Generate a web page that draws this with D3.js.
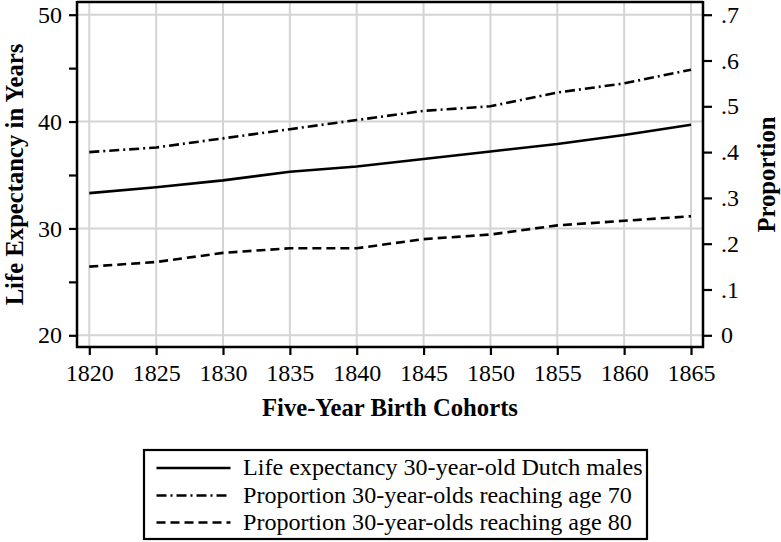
<!DOCTYPE html>
<html><head><meta charset="utf-8">
<script src="https://cdn.jsdelivr.net/npm/d3@7"></script>
<style>body{margin:0;background:#fff;} svg{display:block;} svg text{font-family:"Liberation Serif","Times New Roman",serif;}</style>
</head><body>
<svg id="c" width="781" height="542"></svg>
<script>
const years = [1820,1825,1830,1835,1840,1845,1850,1855,1860,1865];
const lifeExp = [33.3,33.85,34.5,35.3,35.8,36.5,37.2,37.9,38.75,39.7];
const prop70 = [0.40,0.41,0.43,0.45,0.47,0.49,0.50,0.53,0.55,0.58];
const prop80 = [0.15,0.16,0.18,0.19,0.19,0.21,0.22,0.24,0.25,0.26];
const leftMajor = [20,30,40,50];
const leftMinor = [25,35,45];
const rightTicks = [0,0.1,0.2,0.3,0.4,0.5,0.6,0.7];
const legendLabels = ["Life expectancy 30-year-old Dutch males","Proportion 30-year-olds reaching age 70","Proportion 30-year-olds reaching age 80"];
const xTitle = "Five-Year Birth Cohorts", yTitle = "Life Expectancy in Years", y2Title = "Proportion";

const FONT = "Liberation Serif";
const svg = d3.select("#c");
const L = 77, R = 703, T = 2, B = 347;
const x = d3.scaleLinear().domain([1820,1865]).range([89.3,691]);
const y = d3.scaleLinear().domain([20,50]).range([335.3,14.7]);
const y2 = d3.scaleLinear().domain([0,0.7]).range([335.3,14.7]);
const grid = "#d4d4d4";

// gridlines
svg.append("g").selectAll("line.h").data(leftMajor).join("line")
  .attr("x1",L).attr("x2",R).attr("y1",d=>y(d)).attr("y2",d=>y(d))
  .attr("stroke",grid).attr("stroke-width",2);
svg.append("g").selectAll("line.v").data(years).join("line")
  .attr("y1",T).attr("y2",B).attr("x1",d=>x(d)).attr("x2",d=>x(d))
  .attr("stroke",grid).attr("stroke-width",2);

// frame top
svg.append("line").attr("x1",L).attr("x2",R).attr("y1",T).attr("y2",T).attr("stroke","#000").attr("stroke-width",2.5);

const fs = 24;
function styleAxis(g){
  g.attr("font-family",FONT).attr("font-size",fs);
  g.select(".domain").remove();
  g.selectAll(".tick line").attr("stroke","#000").attr("stroke-width",2.2);
  g.selectAll(".tick text").attr("font-family",FONT).attr("font-size",fs).attr("fill","#000");
}
// left axis
const gl = svg.append("g").attr("transform",`translate(${L},0)`)
  .call(d3.axisLeft(y).tickValues(leftMajor).tickSize(8).tickPadding(7).tickFormat(d3.format("d")));
styleAxis(gl);
const glm = svg.append("g").attr("transform",`translate(${L},0)`)
  .call(d3.axisLeft(y).tickValues(leftMinor).tickSize(8).tickFormat(""));
styleAxis(glm);
// right axis
const fmtP = d => d===0 ? "0" : d3.format(".1f")(d).replace(/^0/,"");
const gr = svg.append("g").attr("transform",`translate(${R},0)`)
  .call(d3.axisRight(y2).tickValues(rightTicks).tickSize(9).tickPadding(9).tickFormat(fmtP));
styleAxis(gr);
// bottom axis
const gb = svg.append("g").attr("transform",`translate(0,${B})`)
  .call(d3.axisBottom(x).tickValues(years).tickSize(8).tickPadding(9).tickFormat(d3.format("d")));
styleAxis(gb);

// axis lines
svg.append("line").attr("x1",L).attr("x2",L).attr("y1",T-1).attr("y2",B+1).attr("stroke","#000").attr("stroke-width",2.5);
svg.append("line").attr("x1",R).attr("x2",R).attr("y1",T-1).attr("y2",B+1).attr("stroke","#000").attr("stroke-width",2.5);
svg.append("line").attr("x1",L-1).attr("x2",R+1).attr("y1",B).attr("y2",B).attr("stroke","#000").attr("stroke-width",2.5);

// series
const dashDot = "10,4,2,4", dashed = "9,5";
const series = [
  {vals: lifeExp, sc: y, dash: null},
  {vals: prop70, sc: y2, dash: dashDot},
  {vals: prop80, sc: y2, dash: dashed}
];
series.forEach(s=>{
  const line = d3.line().x((d,i)=>x(years[i])).y(d=>s.sc(d));
  svg.append("path").datum(s.vals).attr("d",line).attr("fill","none")
    .attr("stroke","#000").attr("stroke-width",2.6)
    .attr("stroke-dasharray",s.dash);
});

// titles
const tfs = 24.7;
svg.append("text").attr("x",(L+R)/2).attr("y",416).attr("text-anchor","middle")
  .attr("font-family",FONT).attr("font-weight","bold").attr("font-size",tfs).text(xTitle);
svg.append("text").attr("transform",`translate(23,${(T+B)/2}) rotate(-90)`).attr("text-anchor","middle")
  .attr("font-family",FONT).attr("font-weight","bold").attr("font-size",tfs).text(yTitle);
svg.append("text").attr("transform",`translate(775,${(T+B)/2}) rotate(-90)`).attr("text-anchor","middle")
  .attr("font-family",FONT).attr("font-weight","bold").attr("font-size",tfs).text(y2Title);

// legend
const lg = svg.append("g");
lg.append("rect").attr("x",144).attr("y",450).attr("width",503).attr("height",89)
  .attr("fill","#fff").attr("stroke","#000").attr("stroke-width",2.2);
const rowY = [468,495.5,522.5];
series.forEach((s,i)=>{
  lg.append("line").attr("x1",156.5).attr("x2",230.5).attr("y1",rowY[i]).attr("y2",rowY[i])
    .attr("stroke","#000").attr("stroke-width",2.6).attr("stroke-dasharray",s.dash);
  lg.append("text").attr("x",243).attr("y",rowY[i]+7).attr("font-family",FONT).attr("font-size",24.1).text(legendLabels[i]);
});
</script>
</body></html>
